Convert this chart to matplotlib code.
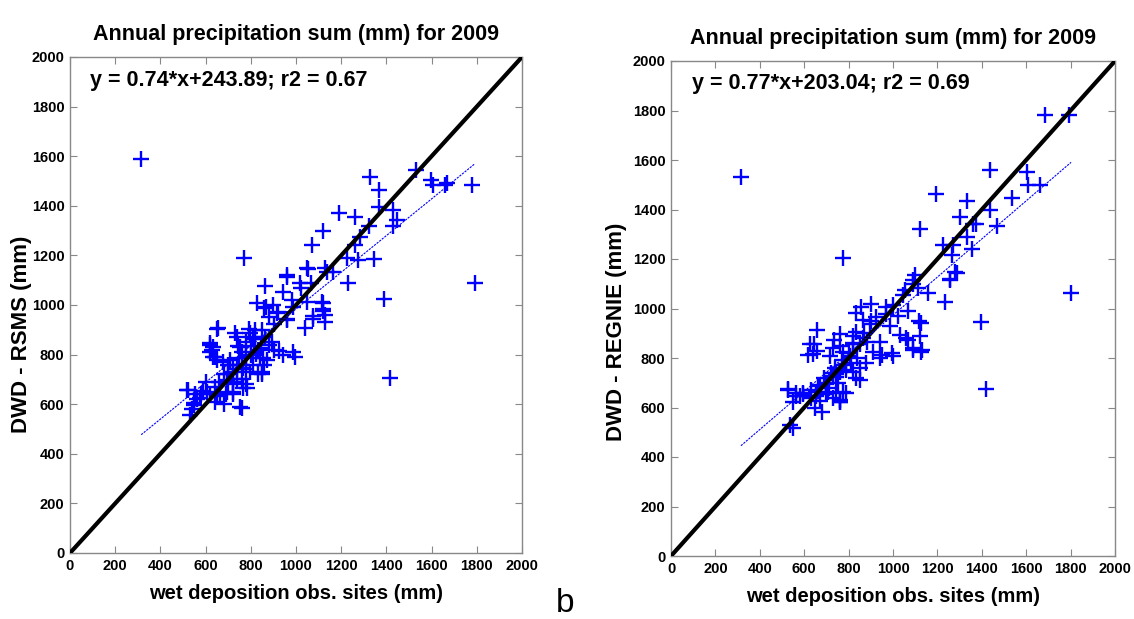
"""
Annual precipitation 2009: DWD gridded products vs wet deposition obs. sites.
Two scatter panels with 1:1 line and linear fit.
"""
import matplotlib
matplotlib.use("Agg")
import matplotlib.pyplot as plt
import numpy as np

# ---------------------------------------------------------------------------
# Data
# ---------------------------------------------------------------------------
obs_rsms = [
    315, 770, 1327, 1367, 1531, 1597, 1606, 1659, 1670, 1779, 1792, 1389, 1416,
    1190, 1261, 1323, 1367, 1429, 1447, 1429, 1119, 1071, 1283, 1261, 1226, 1274,
    1345, 1230, 960, 1053, 1137, 1164, 863, 1018, 1067, 942, 982, 1049, 1115, 827,
    858, 916, 960, 1040, 1076, 1128, 1120, 650, 730, 737, 619, 633, 619, 641, 650,
    796, 818, 862, 892, 942, 996, 851, 849, 522, 552, 575, 590, 619, 664, 723, 752,
    531, 782, 693, 723, 767, 796,
    960, 1049, 1128, 1022, 867, 987, 1119, 1119, 1128, 1076, 920, 960, 902, 655,
    619, 628, 743, 800, 845, 902, 925, 987, 633, 677, 707, 747, 778, 823, 854, 518,
    578, 605, 650, 693, 720, 765, 761, 840, 870, 548, 541, 548, 562, 778,
    700, 740, 760, 780, 810, 830, 800, 760, 720, 680, 660, 700, 740, 780, 820, 850,
    880, 900, 810, 760, 690, 640, 600, 830, 860, 880, 700, 750, 790, 680, 640, 720,
]
rsms = [
    1590, 1190, 1516, 1464, 1544, 1504, 1484, 1484, 1490, 1484, 1089, 1024, 706,
    1371, 1355, 1318, 1395, 1383, 1343, 1318, 1298, 1242, 1274, 1242, 1190, 1181,
    1185, 1089, 1113, 1145, 1133, 1133, 1077, 1089, 1089, 1052, 1020, 1012, 1012, 1008,
    988, 968, 944, 907, 944, 932, 976, 903, 887, 870, 847, 831, 810, 790, 778,
    887, 863, 871, 851, 798, 790, 730, 721, 657, 641, 625, 653, 641, 633, 649, 589,
    556, 665, 698, 730, 746, 730,
    1121, 1149, 1149, 1069, 990, 992, 1008, 984, 960, 956, 971, 940, 923, 907,
    839, 818, 835, 835, 825, 819, 815, 811, 790, 770, 778, 786, 794, 802, 786, 657,
    641, 649, 637, 649, 641, 665, 585, 786, 778, 605, 581, 597, 621, 681,
    720, 700, 760, 740, 760, 820, 800, 810, 760, 720, 690, 680, 740, 850, 900, 900,
    950, 1000, 870, 700, 640, 670, 690, 720, 760, 840, 760, 830, 905, 600, 610, 690,
]

obs_regnie = [
    315, 775, 1437, 1604, 1608, 1662, 1685, 1793, 1802, 1396, 1419, 1194, 1333,
    1302, 1536, 1437, 1468, 1360, 1374, 1122, 1225, 1270, 1266, 1288, 1257, 1234,
    1333, 1356, 1099, 1092, 1045, 1113, 1158, 1000, 970, 903, 858, 835, 865, 925,
    970, 1022, 1067, 1119, 1126, 1130, 1092, 1067, 996, 950, 912, 657, 627, 642,
    657, 732, 762, 822, 852, 882, 527, 565, 580, 595, 632, 655, 670, 707, 760, 745,
    536, 550, 700, 745, 790, 835, 850,
    617, 640, 527, 550, 565, 595, 632, 655, 670, 680, 700, 730, 760, 775, 715, 730,
    760, 775, 805, 820, 835, 865, 895, 940, 985, 1030, 1060, 1090, 1120, 1128,
    1000, 940, 880, 850, 790, 760, 820, 745, 730, 760, 790, 1054, 1090, 1257, 1279,
    700, 740, 770, 800, 820, 690, 660, 720, 780, 840, 870, 900, 810, 750, 710, 650,
]
regnie = [
    1530, 1204, 1560, 1552, 1499, 1499, 1780, 1780, 1063, 945, 675, 1463, 1434,
    1370, 1446, 1398, 1333, 1341, 1341, 1321, 1257, 1257, 1216, 1143, 1120, 1026,
    1289, 1240, 1135, 1100, 1055, 1082, 1061, 1014, 1006, 1020, 1006, 980, 952, 964,
    976, 970, 990, 949, 941, 832, 840, 873, 819, 811, 823, 913, 855, 855,
    829, 873, 898, 890, 855, 863, 675, 660, 645, 660, 669, 645, 628, 663, 622, 660,
    529, 518, 693, 725, 750, 718, 710,
    812, 816, 671, 622, 646, 654, 638, 662, 687, 582, 654, 638, 622, 662, 808, 841,
    849, 825, 808, 857, 906, 882, 938, 865, 930, 893, 881, 833, 890, 825,
    808, 800, 780, 760, 776, 743, 743, 735, 727, 630, 660, 1075, 1115, 1115, 1148,
    700, 760, 790, 820, 860, 720, 690, 740, 770, 800, 900, 950, 780, 700, 680, 600,
]

fits = [(0.74, 243.89, 0.67), (0.77, 203.04, 0.69)]
ylabels = ["DWD - RSMS (mm)", "DWD - REGNIE (mm)"]
title = "Annual precipitation sum (mm) for 2009"
xlabel = "wet deposition obs. sites (mm)"
ticks = list(range(0, 2001, 200))

FONT = ["Liberation Sans", "DejaVu Sans"]

# ---------------------------------------------------------------------------
# Figure
# ---------------------------------------------------------------------------
fig = plt.figure(figsize=(11.34, 6.19), dpi=100)
fig.patch.set_facecolor("white")

ax_rects = [
    [70 / 1134, 1 - 553 / 619, 452 / 1134, 496 / 619],
    [671 / 1134, 1 - 556 / 619, 444 / 1134, 495 / 619],
]
ylabel_pos = [(-0.085, 0.44), (-0.10, 0.452)]
eq_pos = [(88, 1907), (95, 1911)]

panels = [(obs_rsms, rsms), (obs_regnie, regnie)]

for i, (xs, ys) in enumerate(panels):
    ax = fig.add_axes(ax_rects[i])
    xs = np.asarray(xs, float)
    ys = np.asarray(ys, float)

    # 1:1 line
    ax.plot([0, 2000], [0, 2000], color="black", lw=3, zorder=3)

    # scatter
    ax.plot(xs, ys, linestyle="none", marker="+", color="#0000FF",
            markersize=11, markeredgewidth=1.7, zorder=2)

    # linear fit across the observed range
    a, b, r2 = fits[i]
    fx = np.array([xs.min(), xs.max()])
    ax.plot(fx, a * fx + b, color="#0000FF", lw=0.8,
            linestyle=(0, (2, 1)), zorder=4)

    ax.text(eq_pos[i][0], eq_pos[i][1], f"y = {a:.2f}*x+{b:.2f}; r2 = {r2:.2f}",
            ha="left", va="center", fontsize=15.5, fontweight="bold",
            family=FONT)

    ax.set_xlim(0, 2000)
    ax.set_ylim(0, 2000)
    ax.set_xticks(ticks)
    ax.set_yticks(ticks)
    ax.tick_params(direction="in", length=5, width=0.8, color="#888888",
                   top=True, right=True, labelsize=10.5, pad=4)
    for lab in ax.get_xticklabels() + ax.get_yticklabels():
        lab.set_fontweight("bold")
        lab.set_family(FONT)
    for sp in ax.spines.values():
        sp.set_color("#888888")
        sp.set_linewidth(1.0)

    ax.set_title(title, fontsize=15.5, fontweight="bold", family=FONT, pad=12)
    ax.set_xlabel(xlabel, fontsize=14.5, fontweight="bold", family=FONT,
                  labelpad=8)
    ax.set_ylabel(ylabels[i], fontsize=16, fontweight="bold", family=FONT)
    ax.yaxis.set_label_coords(*ylabel_pos[i])

fig.text(565 / 1134, 1 - 603 / 619, "b", fontsize=24, ha="center",
         va="center", family=FONT)

fig.savefig("out.png", dpi=100)
plt.close(fig)
